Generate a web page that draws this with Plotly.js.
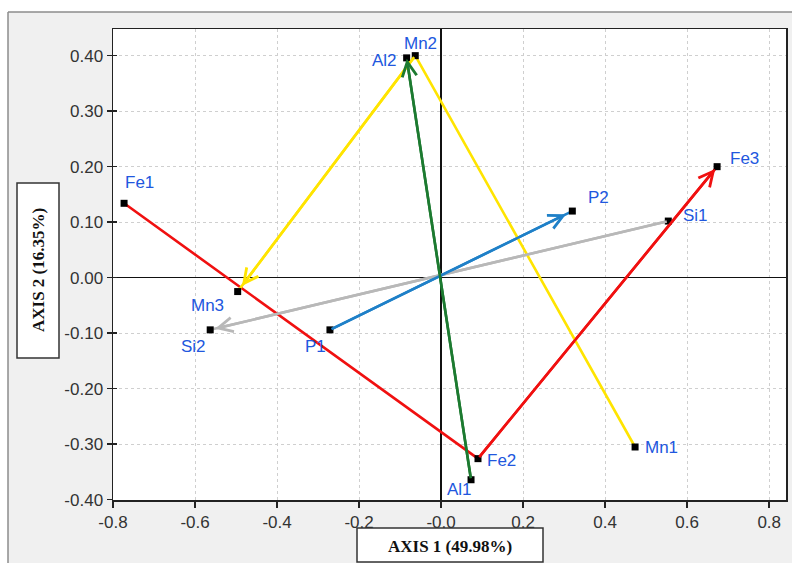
<!DOCTYPE html>
<html>
<head>
<meta charset="utf-8">
<script src="https://cdn.plot.ly/plotly-3.0.1.min.js"></script>
<style>html,body{margin:0;padding:0;background:#fff;}#chart{width:792px;height:563px;}</style>
</head>
<body>
<div id="chart"></div>
<script>
// ---- data ----
const pointLabels = ['Fe1','Fe2','Fe3','Mn1','Mn2','Mn3','Al1','Al2','P1','P2','Si1','Si2'];
const pointX = [-0.773, 0.090, 0.673, 0.473, -0.063, -0.496, 0.073, -0.084, -0.271, 0.320, 0.554, -0.563];
const pointY = [0.134, -0.326, 0.200, -0.305, 0.400, -0.025, -0.364, 0.396, -0.094, 0.120, 0.102, -0.094];

const seriesFe = ['Fe1','Fe2','Fe3'];
const seriesMn = ['Mn1','Mn2','Mn3'];
const seriesAl = ['Al1','Al2'];
const seriesP  = ['P1','P2'];
const seriesSi = ['Si1','Si2'];

const xTickVals = [-0.8,-0.6,-0.4,-0.2,0,0.2,0.4,0.6,0.8];
const xTickText = ['-0.8','-0.6','-0.4','-0.2','-0.0','0.2','0.4','0.6','0.8'];
const yTickVals = [-0.4,-0.3,-0.2,-0.1,0,0.1,0.2,0.3,0.4];
const yTickText = ['-0.40','-0.30','-0.20','-0.10','0.00','0.10','0.20','0.30','0.40'];

const xTitle = 'AXIS 1 (49.98%)';
const yTitle = 'AXIS 2 (16.35%)';

// ---- styles ----
const labelShift = {
  Fe1:[15,21], Fe2:[23,-2], Fe3:[27,8], Mn1:[26,-1], Mn2:[5,12], Mn3:[-30,-14],
  Al1:[-12,-10], Al2:[-22,-3], P1:[-14,-17], P2:[26,14], Si1:[27,6], Si2:[-17,-17]
};
const seriesStyle = [
  {names:seriesSi, color:'#b8b8b8', standoff:5},
  {names:seriesP,  color:'#1f80c8', standoff:7},
  {names:seriesFe, color:'#f01010', standoff:3},
  {names:seriesMn, color:'#ffe400', standoff:7},
  {names:seriesAl, color:'#1c7a30', standoff:1}
];

function idx(n){ return pointLabels.indexOf(n); }

const traces = seriesStyle.map(s => ({
  type:'scatter', mode:'lines', hoverinfo:'skip',
  x:s.names.map(n => pointX[idx(n)]), y:s.names.map(n => pointY[idx(n)]),
  line:{color:s.color, width:2.6}
}));
traces.push({ type:'scatter', mode:'markers', x:pointX, y:pointY, text:pointLabels, hoverinfo:'text',
    marker:{symbol:'square', size:7, color:'#000'} });
traces.push({ type:'scatter', mode:'markers', x:[0], y:[0], yaxis:'y2', hoverinfo:'skip',
    marker:{size:0, opacity:0} });

const px = v => (v - 113) / 673;
const py = v => (500 - v) / 471;

const annotations = [];
// arrowheads on the last segment of each series
seriesStyle.forEach(s => {
  const a = s.names[s.names.length-2], b = s.names[s.names.length-1];
  annotations.push({
    x:pointX[idx(b)], y:pointY[idx(b)], ax:pointX[idx(a)], ay:pointY[idx(a)],
    xref:'x', yref:'y', axref:'x', ayref:'y', text:'', showarrow:true,
    arrowhead:5, arrowsize:1.1, arrowwidth:2.6, arrowcolor:s.color, standoff:s.standoff
  });
});
pointLabels.forEach((n,i) => annotations.push({
  x:pointX[i], y:pointY[i], xref:'x', yref:'y', text:n, showarrow:false,
  xanchor:'center', yanchor:'middle', xshift:labelShift[n][0], yshift:labelShift[n][1],
  font:{family:'Liberation Sans, Arial, sans-serif', size:17, color:'#2157de'}
}));
annotations.push({
  x:px(450), y:py(546), xref:'paper', yref:'paper', text:'<b>'+xTitle+'</b>', showarrow:false,
  xanchor:'center', yanchor:'middle',
  font:{family:'Liberation Serif, Times New Roman, serif', size:17, color:'#111'}
});
annotations.push({
  x:px(38), y:py(270), xref:'paper', yref:'paper', text:'<b>'+yTitle+'</b>', showarrow:false,
  xanchor:'center', yanchor:'middle', textangle:-90,
  font:{family:'Liberation Serif, Times New Roman, serif', size:17, color:'#111'}
});

const shapes = [
  {type:'rect', xref:'paper', yref:'paper', x0:-0.3, x1:1.3, y0:py(12), y1:1.2, fillcolor:'#ffffff', line:{width:0}, layer:'below'},
  {type:'rect', xref:'paper', yref:'paper', x0:-0.3, x1:px(8), y0:-0.3, y1:1.2, fillcolor:'#ffffff', line:{width:0}, layer:'below'},
  {type:'line', xref:'paper', yref:'paper', x0:px(8), x1:1.3, y0:py(12), y1:py(12), line:{color:'#8c8c8c', width:1.5}, layer:'below'},
  {type:'line', xref:'paper', yref:'paper', x0:px(8), x1:px(8), y0:-0.3, y1:py(12), line:{color:'#8c8c8c', width:1.5}, layer:'below'},
  {type:'rect', xref:'paper', yref:'paper', x0:px(357), x1:px(543), y0:py(562), y1:py(528), fillcolor:'#ffffff', line:{color:'#333', width:1.5}},
  {type:'rect', xref:'paper', yref:'paper', x0:px(17), x1:px(59), y0:py(358), y1:py(183), fillcolor:'#ffffff', line:{color:'#333', width:1.5}}
];

const tickFont = {family:'Liberation Sans, Arial, sans-serif', size:17, color:'#333'};
const yRange = [-0.4005, 0.448];

const layout = {
  width:792, height:563, showlegend:false,
  margin:{l:113, r:6, t:29, b:63, pad:0},
  paper_bgcolor:'#f0f0f0', plot_bgcolor:'#ffffff',
  xaxis:{range:[-0.8, 0.841], tickvals:xTickVals, ticktext:xTickText, ticks:'outside', ticklen:6,
         tickcolor:'#222', tickwidth:1.5, tickfont:tickFont,
         showgrid:true, gridcolor:'#cfcfcf', griddash:'dot', gridwidth:1,
         zeroline:true, zerolinecolor:'#111', zerolinewidth:1.5,
         showline:true, linecolor:'#222', linewidth:1.5, mirror:true},
  yaxis:{range:yRange, tickvals:yTickVals, ticktext:yTickText, ticks:'outside', ticklen:5,
         tickcolor:'#222', tickwidth:1.5, tickfont:tickFont,
         showgrid:true, gridcolor:'#cfcfcf', griddash:'dot', gridwidth:1,
         zeroline:true, zerolinecolor:'#111', zerolinewidth:1.5,
         showline:true, linecolor:'#222', linewidth:1.5, mirror:true},
  yaxis2:{range:yRange, overlaying:'y', side:'left', tickvals:yTickVals, ticks:'inside', ticklen:4,
          tickcolor:'#222', tickwidth:1.5, showticklabels:false, showgrid:false, zeroline:false, showline:false},
  shapes:shapes,
  annotations:annotations
};

Plotly.newPlot('chart', traces, layout, {displayModeBar:false, staticPlot:true});
</script>
</body>
</html>
